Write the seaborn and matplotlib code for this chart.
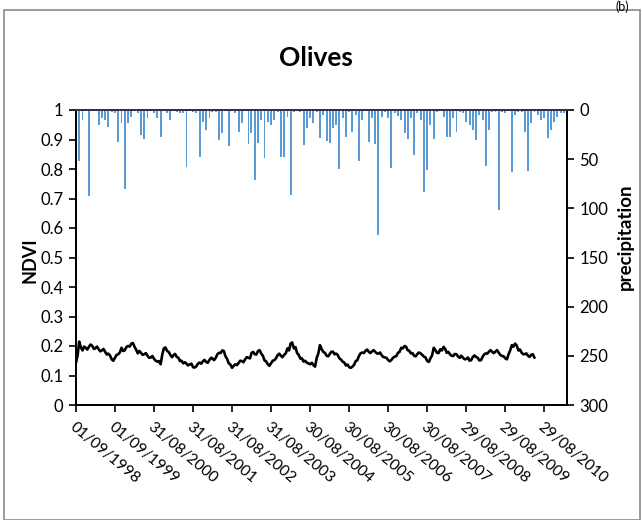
import numpy as np
import pandas as pd
import matplotlib
matplotlib.use("Agg")
import matplotlib.pyplot as plt
from matplotlib.patches import Rectangle
from matplotlib.ticker import FixedLocator, FuncFormatter
from matplotlib.transforms import ScaledTranslation
import seaborn as sns

# ---- data -------------------------------------------------------------
start_date = "1998-09-01"

# monthly precipitation (mm), one value per month from Sep 1998
precip_mm = [
    21, 52, 10, 0, 87, 0, 0, 15, 8, 10, 17, 2, 3, 33, 13, 80, 13, 7, 0, 3,
    25, 29, 8, 0, 3, 8, 27, 0, 3, 10, 0, 2, 3, 3, 58, 0, 2, 3, 48, 12,
    20, 8, 2, 2, 30, 23, 0, 37, 0, 3, 22, 13, 0, 35, 23, 71, 34, 10, 49, 12,
    15, 10, 2, 48, 48, 7, 86, 2, 0, 2, 36, 18, 8, 13, 2, 28, 5, 32, 34, 18,
    15, 60, 8, 27, 2, 22, 5, 52, 10, 0, 33, 8, 35, 127, 7, 2, 8, 59, 3, 6,
    10, 23, 29, 8, 46, 3, 10, 83, 61, 15, 29, 2, 0, 7, 27, 27, 8, 22, 2, 3,
    12, 15, 20, 30, 5, 10, 57, 20, 2, 2, 102, 2, 3, 0, 63, 5, 2, 2, 22, 62,
    13, 2, 5, 10, 8, 28, 20, 12, 7, 3, 3,
]

# NDVI composites: first of each month, from Sep 1998
ndvi_first = [
    0.143, 0.215, 0.185, 0.194, 0.198, 0.200, 0.192, 0.189, 0.185, 0.180,
    0.174, 0.155, 0.160, 0.172, 0.194, 0.185, 0.200, 0.208, 0.198, 0.175,
    0.177, 0.172, 0.167, 0.161, 0.156, 0.147, 0.138, 0.192, 0.183, 0.169,
    0.169, 0.163, 0.149, 0.141, 0.140, 0.138, 0.128, 0.131, 0.144, 0.148,
    0.146, 0.153, 0.158, 0.160, 0.177, 0.185, 0.165, 0.141, 0.126, 0.138,
    0.143, 0.149, 0.155, 0.160, 0.176, 0.172, 0.183, 0.174, 0.151, 0.138,
    0.142, 0.152, 0.169, 0.167, 0.170, 0.192, 0.208, 0.192, 0.176, 0.157,
    0.147, 0.143, 0.138, 0.135, 0.160, 0.203, 0.180, 0.167, 0.172, 0.181,
    0.174, 0.158, 0.147, 0.134, 0.128, 0.130, 0.149, 0.166, 0.178, 0.184,
    0.181, 0.181, 0.181, 0.174, 0.169, 0.161, 0.152, 0.153, 0.164, 0.177,
    0.194, 0.200, 0.186, 0.175, 0.167, 0.173, 0.175, 0.164, 0.149, 0.158,
    0.194, 0.177, 0.189, 0.197, 0.177, 0.172, 0.166, 0.172, 0.160, 0.160,
    0.156, 0.150, 0.163, 0.163, 0.151, 0.164, 0.175, 0.181, 0.180, 0.181,
    0.177, 0.166, 0.158, 0.172, 0.203, 0.208, 0.185, 0.177, 0.172, 0.167,
    0.170, 0.160,
]

# NDVI composites: 16th of each month, Sep 1998 to May 2010
ndvi_mid = [
    0.168, 0.196, 0.198, 0.188, 0.205, 0.190, 0.198, 0.182, 0.190, 0.171,
    0.168, 0.150, 0.170, 0.178, 0.183, 0.196, 0.198, 0.210, 0.188, 0.183,
    0.170, 0.176, 0.160, 0.166, 0.150, 0.149, 0.170, 0.195, 0.180, 0.162,
    0.173, 0.160, 0.150, 0.145, 0.134, 0.140, 0.127, 0.140, 0.140, 0.153,
    0.143, 0.160, 0.152, 0.172, 0.176, 0.183, 0.156, 0.137, 0.133, 0.135,
    0.150, 0.145, 0.162, 0.158, 0.180, 0.171, 0.186, 0.167, 0.148, 0.133,
    0.150, 0.158, 0.174, 0.162, 0.175, 0.185, 0.212, 0.196, 0.170, 0.158,
    0.150, 0.141, 0.143, 0.130, 0.175, 0.190, 0.177, 0.165, 0.180, 0.172,
    0.170, 0.154, 0.144, 0.137, 0.126, 0.136, 0.152, 0.175, 0.176, 0.188,
    0.176, 0.186, 0.175, 0.178, 0.163, 0.160, 0.148, 0.160, 0.166, 0.180,
    0.192, 0.197, 0.184, 0.176, 0.165, 0.178, 0.170, 0.161, 0.146, 0.168,
    0.186, 0.176, 0.185, 0.190, 0.180, 0.167, 0.173, 0.164, 0.167, 0.155,
    0.161, 0.152, 0.168, 0.160, 0.152, 0.172, 0.174, 0.186, 0.176, 0.186,
    0.170, 0.165, 0.155, 0.185, 0.198, 0.202, 0.188, 0.172, 0.175, 0.163,
    0.172,
]

tick_labels = [
    "01/09/1998", "01/09/1999", "31/08/2000", "31/08/2001", "31/08/2002",
    "31/08/2003", "30/08/2004", "30/08/2005", "30/08/2006", "30/08/2007",
    "29/08/2008", "29/08/2009", "29/08/2010",
]

# ---- style ------------------------------------------------------------
sns.set_theme(style="white")
plt.rcParams["font.family"] = ["Lato", "DejaVu Sans"]
for key in ("text.color", "axes.labelcolor", "xtick.color", "ytick.color"):
    plt.rcParams[key] = "black"

W, H = 642, 520
fig = plt.figure(figsize=(W / 100, H / 100), dpi=100)
fig.patch.set_facecolor("white")

# outer chart frame
fig.add_artist(Rectangle((3.5 / W, 0.5 / H), (639.5 - 3.5) / W, (H - 10.5) / H,
                         transform=fig.transFigure, fill=False,
                         edgecolor="#8a8a8a", linewidth=1.2))
fig.text(622 / W, 1 - 0.5 / H, "(b)", ha="center", va="top", fontsize=9)

L, R, T, B = 76, 567, 110, 405
ax = fig.add_axes([L / W, 1 - B / H, (R - L) / W, (B - T) / H])
ax2 = ax.twinx()

t0 = pd.Timestamp(start_date)
precip_dates = pd.date_range(t0, periods=len(precip_mm), freq="MS")
first_dates = pd.date_range(t0, periods=len(ndvi_first), freq="MS")
mid_dates = first_dates[:len(ndvi_mid)] + pd.Timedelta(days=15)
df_ndvi = pd.DataFrame({
    "date": list(first_dates) + list(mid_dates),
    "NDVI": ndvi_first + ndvi_mid,
}).sort_values("date")
df_rain = pd.DataFrame({"date": precip_dates, "precipitation": precip_mm})

sns.lineplot(data=df_ndvi, x="date", y="NDVI", ax=ax, color="black",
             linewidth=1.9)
ax2.bar(df_rain["date"], df_rain["precipitation"], width=18,
        color="#5b9bd5", linewidth=0)

ax.set_xlim(t0, t0 + pd.Timedelta(days=4595))
ax.set_ylim(0, 1)
ax2.set_ylim(300, 0)

ax.yaxis.set_major_locator(FixedLocator(np.round(np.arange(0, 1.01, 0.1), 1)))
ax.yaxis.set_major_formatter(FuncFormatter(lambda v, _: f"{v:g}"))
ax2.yaxis.set_major_locator(FixedLocator(np.arange(0, 301, 50)))

tick_dates = pd.to_datetime(tick_labels, format="%d/%m/%Y")
ax.set_xticks(tick_dates)
ax.set_xticklabels(tick_labels, rotation=-40, ha="left", va="top",
                   rotation_mode="anchor", fontsize=11.2)
shift = ScaledTranslation(4 / 100, 0, fig.dpi_scale_trans)
for lbl in ax.get_xticklabels():
    lbl.set_transform(lbl.get_transform() + shift)

ax.tick_params(axis="x", bottom=True, direction="out", length=5, width=1.2,
               pad=6, colors="black")
ax.tick_params(axis="y", left=True, direction="out", length=5, width=1.2,
               labelsize=12, pad=4)
ax2.tick_params(axis="y", right=True, direction="out", length=5, width=1.2,
                labelsize=12, pad=4)

for a in (ax, ax2):
    for side in ("left", "right", "bottom"):
        a.spines[side].set_color("black")
        a.spines[side].set_linewidth(1.3)
    a.spines["top"].set_color("#2b3445")
    a.spines["top"].set_linewidth(1.4)
    a.grid(False)

ax.set_xlabel("")
ax.set_ylabel("NDVI", fontsize=13, fontweight="bold")
ax.yaxis.set_label_coords(-0.076, 0.49)
ax2.set_ylabel("precipitation", fontsize=13.5, fontweight="bold")
ax2.yaxis.set_label_coords(1.102, 0.57)

fig.text(316 / W, 1 - 58 / H, "Olives", ha="center", va="center",
         fontsize=19, fontweight="bold")

fig.savefig("out.png", dpi=100)
